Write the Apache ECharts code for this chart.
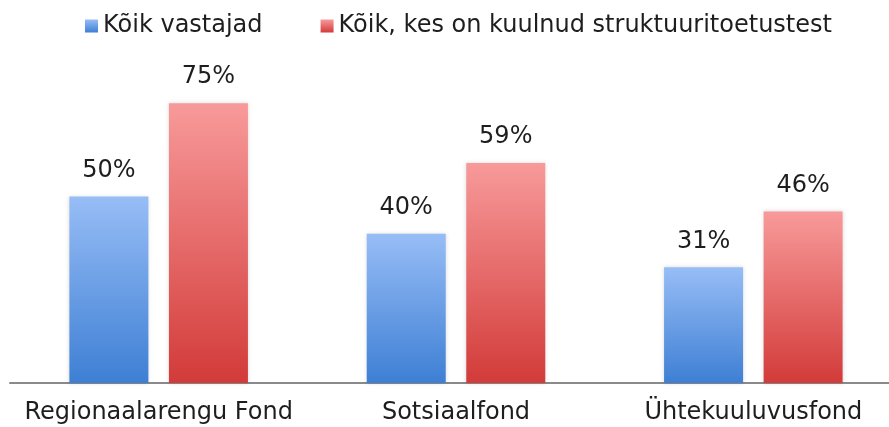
<!DOCTYPE html>
<html>
<head>
<meta charset="utf-8">
<script src="https://cdn.jsdelivr.net/npm/echarts@6/dist/echarts.min.js"></script>
<style>
  html, body { margin: 0; padding: 0; background: #fff; overflow: hidden; }
  #chart { width: 905px; height: 427px; }
</style>
</head>
<body>
<div id="chart"></div>
<script>
const categories = ["Regionaalarengu Fond", "Sotsiaalfond", "Ühtekuuluvusfond"];
const seriesNames = ["Kõik vastajad", "Kõik, kes on kuulnud struktuuritoetustest"];
const allRespondents = [50, 40, 31];
const heardOf = [75, 59, 46];

const FONT = "DejaVu Sans, Verdana, sans-serif";

function grad(top, bottom) {
  return new echarts.graphic.LinearGradient(0, 0, 0, 1, [
    { offset: 0, color: top },
    { offset: 1, color: bottom },
  ]);
}

const labelStyle = {
  show: true,
  position: "top",
  distance: 14,
  formatter: "{c}%",
  color: "#1e1e1e",
  fontFamily: FONT,
  fontSize: 24,
};

// the chart div is a bit wider than the window so the last group sits like the original
const myChart = echarts.init(document.getElementById("chart"));
myChart.setOption({
  animation: false,
  legend: {
    left: 80,
    top: 9,
    itemWidth: 13,
    itemHeight: 13,
    itemGap: 58,
    icon: "rect",
    textStyle: {
      color: "#1e1e1e",
      fontFamily: FONT,
      fontSize: 24,
    },
    data: seriesNames,
  },
  grid: {
    left: 10,
    width: 892,
    top: 10,
    bottom: 44,
    containLabel: false,
  },
  xAxis: {
    type: "category",
    data: categories,
    axisLine: {
      lineStyle: { color: "#8a8a8a", width: 2 },
    },
    axisTick: { show: false },
    axisLabel: {
      margin: 18,
      color: "#1e1e1e",
      fontFamily: FONT,
      fontSize: 24,
      interval: 0,
    },
  },
  yAxis: {
    type: "value",
    min: 0,
    max: 100,
    show: false,
    splitLine: { show: false },
  },
  series: [
    {
      name: seriesNames[0],
      type: "bar",
      barWidth: 79,
      barGap: "26%",
      itemStyle: {
        color: grad("#97bdf6", "#3e7fd4"),
        shadowColor: "rgba(0,0,0,0.15)",
        shadowBlur: 4,
      },
      label: labelStyle,
      data: allRespondents,
    },
    {
      name: seriesNames[1],
      type: "bar",
      barWidth: 79,
      barGap: "26%",
      itemStyle: {
        color: grad("#f89a9a", "#d23b39"),
        shadowColor: "rgba(0,0,0,0.15)",
        shadowBlur: 4,
      },
      label: labelStyle,
      data: heardOf,
    },
  ],
});
</script>
</body>
</html>
